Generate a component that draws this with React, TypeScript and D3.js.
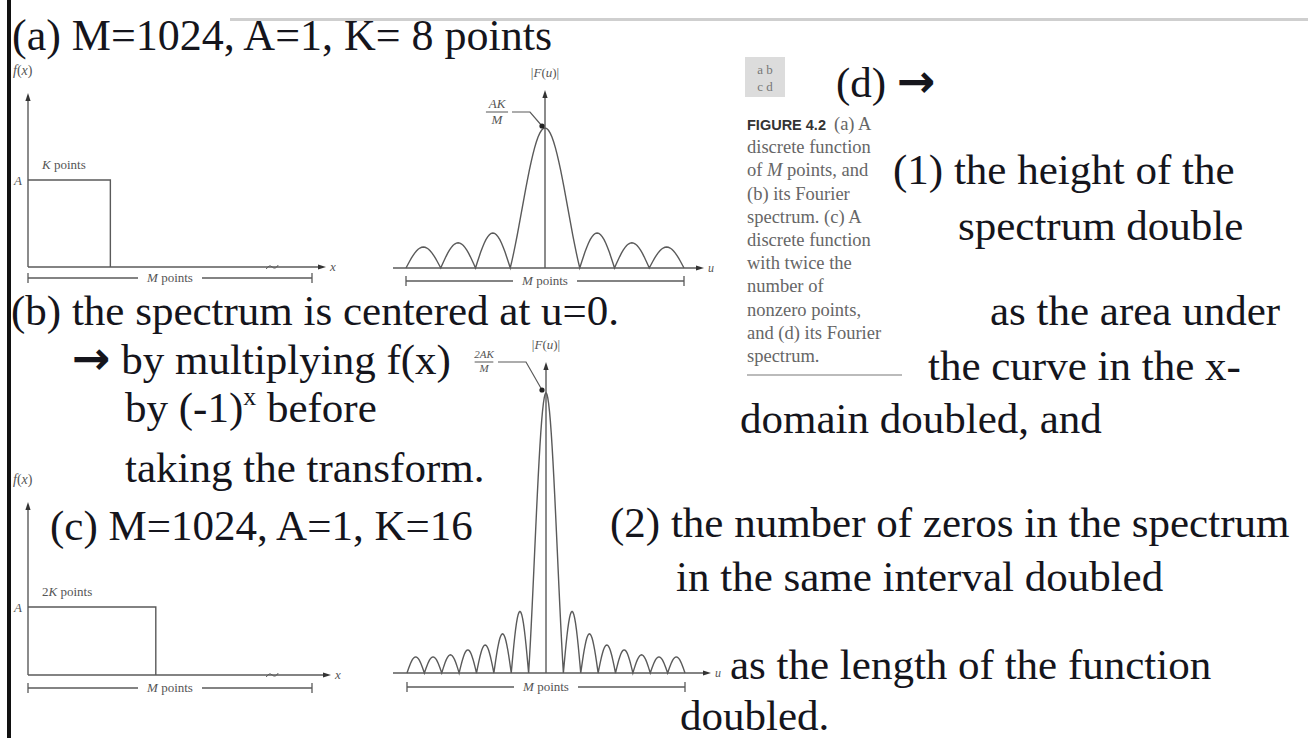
import React from "react";
import * as d3 from "d3";

const W = 1308;
const H = 738;

// Parameters of the two discrete functions
const M_POINTS = 1024;
const AMPLITUDE = 1;
const K_A = 8;
const K_C = 16;

// Nonzero run of f(x) as a fraction of the M-point axis (schematic drawing)
const boxExtentA = 0.29;
const boxExtentC = 0.45;

// |F(u)| lobe peaks in units of AK/M, listed from the centre outwards (symmetric)
const mainPeakB = 1;
const sidePeaksB = [0.25, 0.18, 0.15];
const mainPeakD = 2;
const sidePeaksD = [0.44, 0.28, 0.2, 0.165, 0.13, 0.115, 0.115];

// Caption lines of the book figure
const captionLines = [
  "discrete function",
  "of M points, and",
  "(b) its Fourier",
  "spectrum. (c) A",
  "discrete function",
  "with twice the",
  "number of",
  "nonzero points,",
  "and (d) its Fourier",
  "spectrum.",
];

const SERIF = "'Liberation Serif', 'Times New Roman', serif";
const SANS = "'Liberation Sans', Arial, sans-serif";
const ARROW_FONT = "'DejaVu Sans', sans-serif";
const INK = "#15151c";
const LINE = "#5a5a5a";
const LABEL = "#555";

type Pt = [number, number];

// Outline of one lobe of the spectrum between two zeros
function lobeOutline(u0: number, u1: number, peak: number, main: boolean): Pt[] {
  const pts: Pt[] = [];
  const n = main ? 40 : 20;
  for (let i = 0; i <= n; i++) {
    const t = i / n;
    const u = u0 + t * (u1 - u0);
    let v: number;
    if (main) {
      const x = (t - 0.5) * 2;
      v = x === 0 ? 1 : Math.sin(Math.PI * x) / (Math.PI * x);
    } else {
      v = Math.sin(Math.PI * t);
    }
    pts.push([u, peak * Math.max(0, v)]);
  }
  return pts;
}

function spectrumPoints(lobeWidth: number, mainPeak: number, sides: number[]): Pt[] {
  const pts: Pt[] = [];
  for (let i = sides.length; i >= 1; i--) {
    pts.push(...lobeOutline(-(i + 1) * lobeWidth, -i * lobeWidth, sides[i - 1], false));
  }
  pts.push(...lobeOutline(-lobeWidth, lobeWidth, mainPeak, true));
  for (let i = 1; i <= sides.length; i++) {
    pts.push(...lobeOutline(i * lobeWidth, (i + 1) * lobeWidth, sides[i - 1], false));
  }
  return pts;
}

function ArrowUp({ x, y }: { x: number; y: number }) {
  return <path d={`M${x},${y} L${x - 2.6},${y + 8} L${x + 2.6},${y + 8} Z`} fill="#333" />;
}
function ArrowRight({ x, y }: { x: number; y: number }) {
  return <path d={`M${x},${y} L${x - 8},${y - 2.6} L${x - 8},${y + 2.6} Z`} fill="#333" />;
}

function Bracket({ x0, x1, y }: { x0: number; x1: number; y: number }) {
  const cx = (x0 + x1) / 2;
  return (
    <g>
      <line x1={x0} x2={x1} y1={y} y2={y} stroke={LINE} strokeWidth={1.3} />
      <line x1={x0} x2={x0} y1={y - 5} y2={y + 5} stroke={LINE} strokeWidth={1.3} />
      <line x1={x1} x2={x1} y1={y - 5} y2={y + 5} stroke={LINE} strokeWidth={1.3} />
      <rect x={cx - 32} y={y - 6} width={64} height={12} fill="#fff" />
      <text x={cx} y={y + 4} textAnchor="middle" fontFamily={SERIF} fontSize={13} fill={LABEL}>
        <tspan fontStyle="italic">M</tspan> points
      </text>
    </g>
  );
}

type FProps = {
  x0: number;
  x1: number;
  axisEnd: number;
  baseY: number;
  boxY: number;
  topY: number;
  extent: number;
  runLabel: React.ReactNode;
  bracketY: number;
};

// f(x): rectangular run of K (or 2K) samples of height A on an M-point axis
function FunctionPanel({ x0, x1, axisEnd, baseY, boxY, topY, extent, runLabel, bracketY }: FProps) {
  const x = d3.scaleLinear().domain([0, 1]).range([x0, x1]);
  const y = d3.scaleLinear().domain([0, AMPLITUDE]).range([baseY, boxY]);
  const rect = d3.line()([
    [x(0), y(AMPLITUDE)],
    [x(extent), y(AMPLITUDE)],
    [x(extent), y(0)],
  ] as Pt[]);
  const breakX = x(0.86);
  return (
    <g>
      <text x={13} y={topY - 18} fontFamily={SERIF} fontSize={14} fill={LABEL} fontStyle="italic">
        f<tspan fontStyle="normal">(</tspan>x<tspan fontStyle="normal">)</tspan>
      </text>
      <line x1={x0} x2={x0} y1={baseY} y2={topY + 4} stroke={LINE} strokeWidth={1.4} />
      <ArrowUp x={x0} y={topY} />
      <line x1={x0} x2={axisEnd - 4} y1={baseY} y2={baseY} stroke={LINE} strokeWidth={1.4} />
      <ArrowRight x={axisEnd} y={baseY} />
      <path
        d={`M${breakX - 6},${baseY + 2} q3,-5 6,-2 q3,3 6,-2`}
        fill="none"
        stroke={LINE}
        strokeWidth={1}
      />
      <text x={axisEnd + 4} y={baseY + 4} fontFamily={SERIF} fontSize={13} fontStyle="italic" fill={LABEL}>
        x
      </text>
      <path d={rect ?? ""} fill="none" stroke={LINE} strokeWidth={1.4} />
      <text x={14} y={y(AMPLITUDE) + 5} fontFamily={SERIF} fontSize={13} fontStyle="italic" fill={LABEL}>
        A
      </text>
      <text x={x0 + 14} y={y(AMPLITUDE) - 11} fontFamily={SERIF} fontSize={13} fill={LABEL}>
        {runLabel}
      </text>
      <Bracket x0={x(0)} x1={x(1)} y={bracketY} />
    </g>
  );
}

type SProps = {
  cx: number;
  baseY: number;
  topY: number;
  axisStart: number;
  axisEnd: number;
  lobeWidth: number;
  mainPeak: number;
  sides: number[];
  bracketY: number;
  fracX: number;
  fracY: number;
  fracSize: number;
  numerator: string;
  leader: string;
  leaderTip: Pt;
};

// |F(u)|: centred magnitude spectrum drawn from its lobe peaks
function SpectrumPanel(p: SProps) {
  const u = d3.scaleLinear().domain([-M_POINTS / 2, M_POINTS / 2]).range([p.cx - 139, p.cx + 139]);
  const h = d3.scaleLinear().domain([0, 1]).range([p.baseY, p.baseY - 140]);
  const line = d3
    .line<Pt>()
    .x((d) => u(d[0]))
    .y((d) => h(d[1]));
  const pts = spectrumPoints(p.lobeWidth, p.mainPeak, p.sides);
  const [tx, ty] = p.leaderTip;
  return (
    <g>
      <text x={p.cx} y={p.topY - 13} textAnchor="middle" fontFamily={SERIF} fontSize={13} fill={LABEL}>
        |<tspan fontStyle="italic">F</tspan>(<tspan fontStyle="italic">u</tspan>)|
      </text>
      <line x1={p.cx} x2={p.cx} y1={p.baseY} y2={p.topY + 4} stroke={LINE} strokeWidth={1.4} />
      <ArrowUp x={p.cx} y={p.topY} />
      <line x1={p.axisStart} x2={p.axisEnd - 4} y1={p.baseY} y2={p.baseY} stroke={LINE} strokeWidth={1.4} />
      <ArrowRight x={p.axisEnd} y={p.baseY} />
      <text x={p.axisEnd + 4} y={p.baseY + 4} fontFamily={SERIF} fontSize={12} fontStyle="italic" fill={LABEL}>
        u
      </text>
      <path d={line(pts) ?? ""} fill="none" stroke={LINE} strokeWidth={1.4} />
      <text
        x={p.fracX}
        y={p.fracY - 4}
        textAnchor="middle"
        fontFamily={SERIF}
        fontSize={p.fracSize}
        fontStyle="italic"
        fill={LABEL}
      >
        {p.numerator}
      </text>
      <line
        x1={p.fracX - p.fracSize * 0.85}
        x2={p.fracX + p.fracSize * 0.85}
        y1={p.fracY}
        y2={p.fracY}
        stroke={LABEL}
        strokeWidth={1}
      />
      <text
        x={p.fracX}
        y={p.fracY + p.fracSize - 1}
        textAnchor="middle"
        fontFamily={SERIF}
        fontSize={p.fracSize}
        fontStyle="italic"
        fill={LABEL}
      >
        M
      </text>
      <path d={p.leader} fill="none" stroke={LINE} strokeWidth={1.2} />
      <circle cx={tx} cy={ty} r={2.6} fill="#222" />
      <Bracket x0={u(-M_POINTS / 2)} x1={u(M_POINTS / 2)} y={p.bracketY} />
    </g>
  );
}

function BigText({ x, y, children, size = 43 }: { x: number; y: number; children: React.ReactNode; size?: number }) {
  return (
    <text x={x} y={y} fontFamily={SERIF} fontSize={size} fill={INK}>
      {children}
    </text>
  );
}

function Arrow() {
  return (
    <tspan fontFamily={ARROW_FONT} fontWeight="bold" fontSize={46}>
      →
    </tspan>
  );
}

export default function App() {
  return (
    <svg
      width={W}
      height={H}
      viewBox={`0 0 ${W} ${H}`}
      style={{ position: "absolute", left: 0, top: 0, background: "#fff", display: "block" }}
    >
      <rect x={0} y={0} width={W} height={H} fill="#fff" />
      {/* slide frame */}
      <rect x={7} y={0} width={4} height={H} fill="#111" />
      <rect x={230} y={18} width={W - 230} height={3} fill="#cfcfcf" />

      {/* (a) f(x) with K points */}
      <FunctionPanel
        x0={28}
        x1={312}
        axisEnd={326}
        baseY={267}
        boxY={180}
        topY={93}
        extent={boxExtentA}
        runLabel={
          <>
            <tspan fontStyle="italic">K</tspan> points
          </>
        }
        bracketY={278}
      />
      {/* (c) f(x) with 2K points */}
      <FunctionPanel
        x0={28}
        x1={312}
        axisEnd={331}
        baseY={675}
        boxY={607}
        topY={502}
        extent={boxExtentC}
        runLabel={
          <>
            2<tspan fontStyle="italic">K</tspan> points
          </>
        }
        bracketY={688}
      />

      {/* (b) spectrum of (a) */}
      <SpectrumPanel
        cx={545}
        baseY={268}
        topY={90}
        axisStart={393}
        axisEnd={704}
        lobeWidth={M_POINTS / K_A}
        mainPeak={mainPeakB}
        sides={sidePeaksB}
        bracketY={281}
        fracX={497}
        fracY={112}
        fracSize={13}
        numerator="AK"
        leader="M512,112 H530 L542,126"
        leaderTip={[542, 126]}
      />
      {/* (d) spectrum of (c) */}
      <SpectrumPanel
        cx={546}
        baseY={673}
        topY={362}
        axisStart={393}
        axisEnd={711}
        lobeWidth={M_POINTS / K_C}
        mainPeak={mainPeakD}
        sides={sidePeaksD}
        bracketY={687}
        fracX={484}
        fracY={362}
        fracSize={11}
        numerator="2AK"
        leader="M498,362 H526 L542,390"
        leaderTip={[542, 390]}
      />

      {/* book caption */}
      <rect x={745} y={57} width={40} height={40} fill="#dcdcdc" />
      <text x={765} y={74} textAnchor="middle" fontFamily={SERIF} fontSize={13} fill="#777">
        a b
      </text>
      <text x={765} y={91} textAnchor="middle" fontFamily={SERIF} fontSize={13} fill="#777">
        c d
      </text>
      <text x={747} y={130} fontFamily={SERIF} fontSize={18.5} fill="#666">
        <tspan fontFamily={SANS} fontWeight="bold" fontSize={14.5} fill="#333">
          FIGURE 4.2
        </tspan>
        <tspan dx={8}>(a) A</tspan>
      </text>
      {captionLines.map((t, i) => (
        <text key={i} x={747} y={130 + (i + 1) * 23.2} fontFamily={SERIF} fontSize={18.5} fill="#666">
          {t === "of M points, and" ? (
            <>
              of <tspan fontStyle="italic">M</tspan> points, and
            </>
          ) : (
            t
          )}
        </text>
      ))}
      <line x1={747} x2={902} y1={375} y2={375} stroke="#bbb" strokeWidth={2} />

      {/* slide text */}
      <BigText x={12} y={50} size={44}>
        (a) M={M_POINTS}, A={AMPLITUDE}, K= {K_A} points
      </BigText>
      <BigText x={11} y={325}>(b) the spectrum is centered at u=0.</BigText>
      <BigText x={72} y={374}>
        <Arrow /> by multiplying f(x)
      </BigText>
      <BigText x={125} y={422}>
        by (-1)
        <tspan fontSize={26} dy={-17}>
          x
        </tspan>
        <tspan dy={17}> before</tspan>
      </BigText>
      <BigText x={125} y={482}>taking the transform.</BigText>
      <BigText x={50} y={540}>
        (c) M={M_POINTS}, A={AMPLITUDE}, K={K_C}
      </BigText>

      <BigText x={836} y={97}>
        (d) <Arrow />
      </BigText>
      <BigText x={893} y={184}>(1) the height of the</BigText>
      <BigText x={958} y={240}>spectrum double</BigText>
      <BigText x={990} y={325}>as the area under</BigText>
      <BigText x={928} y={380}>the curve in the x-</BigText>
      <BigText x={740} y={433}>domain doubled, and</BigText>
      <BigText x={610} y={537}>(2) the number of zeros in the spectrum</BigText>
      <BigText x={676} y={591}>in the same interval doubled</BigText>
      <BigText x={730} y={679}>as the length of the function</BigText>
      <BigText x={680} y={730}>doubled.</BigText>
    </svg>
  );
}
